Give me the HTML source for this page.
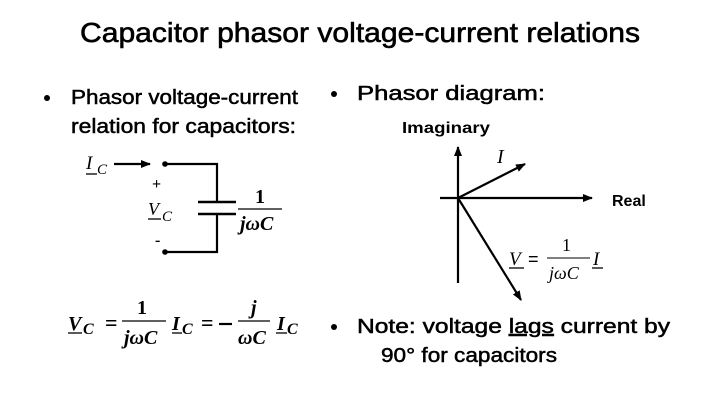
<!DOCTYPE html>
<html><head><meta charset="utf-8"><style>
html,body{margin:0;padding:0;background:#fff}
svg{display:block}
.c{font-family:"Liberation Sans",sans-serif;fill:#000;stroke:#000;stroke-width:0.5}
.m{font-family:"Liberation Serif",serif;font-style:italic;fill:#000}
.mb{font-family:"Liberation Serif",serif;font-style:italic;font-weight:bold;fill:#000}
.b{font-family:"Liberation Serif",serif;font-weight:bold;fill:#000}
</style></head><body>
<svg width="720" height="405" viewBox="0 0 720 405" xmlns="http://www.w3.org/2000/svg">
<defs><marker id="ah" markerWidth="10" markerHeight="8" refX="9" refY="4" orient="auto" markerUnits="userSpaceOnUse"><path d="M0,0 L10,4 L0,8 Z" fill="#000"/></marker></defs>
<text class="c" x="80" y="42" font-size="28" textLength="560" lengthAdjust="spacingAndGlyphs" style="stroke-width:0.6">Capacitor phasor voltage-current relations</text>
<circle cx="47" cy="98" r="3"/>
<text class="c" x="71" y="104" font-size="20" textLength="227" lengthAdjust="spacingAndGlyphs">Phasor voltage-current</text>
<text class="c" x="71" y="133" font-size="20" textLength="225" lengthAdjust="spacingAndGlyphs">relation for capacitors:</text>
<circle cx="334" cy="94" r="3"/>
<text class="c" x="357" y="100" font-size="20" textLength="188" lengthAdjust="spacingAndGlyphs">Phasor diagram:</text>
<circle cx="334" cy="327" r="3"/>
<text class="c" x="357" y="333" font-size="20" textLength="313" lengthAdjust="spacingAndGlyphs">Note: voltage <tspan text-decoration="underline">lags</tspan> current by</text>
<text class="c" x="381" y="362" font-size="20" textLength="176" lengthAdjust="spacingAndGlyphs">90° for capacitors</text>

<!-- circuit -->
<text class="m" x="86" y="169" font-size="19">I</text><text class="m" x="97" y="174" font-size="15">C</text>
<line x1="86" y1="174" x2="97" y2="174" stroke="#000" stroke-width="1.3"/>
<line x1="114" y1="164" x2="150" y2="164" stroke="#000" stroke-width="2.2" marker-end="url(#ah)"/>
<polyline points="165,164 217,164 217,202" fill="none" stroke="#000" stroke-width="2.2"/>
<polyline points="165,252 217,252 217,215" fill="none" stroke="#000" stroke-width="2.2"/>
<line x1="198" y1="202" x2="236" y2="202" stroke="#000" stroke-width="2.5"/>
<line x1="198" y1="214" x2="236" y2="214" stroke="#000" stroke-width="2.5"/>
<circle cx="165" cy="164" r="2.8"/><circle cx="165" cy="252" r="2.8"/>
<text class="b" x="152" y="189" font-size="16">+</text>
<text class="b" x="155" y="245" font-size="16">-</text>
<text class="m" x="148" y="215" font-size="18">V</text><text class="m" x="162" y="221" font-size="15">C</text>
<line x1="148" y1="219" x2="161" y2="219" stroke="#000" stroke-width="1.3"/>
<text class="b" x="255" y="203" font-size="20">1</text>
<line x1="238" y1="209" x2="282" y2="209" stroke="#000" stroke-width="1.3"/>
<text class="mb" x="240" y="230" font-size="20">jωC</text>

<!-- equation -->
<text class="mb" x="68" y="330" font-size="20">V</text><text class="mb" x="83" y="334" font-size="16">C</text>
<line x1="68" y1="333" x2="82" y2="333" stroke="#000" stroke-width="1.3"/>
<text class="b" x="105" y="330" font-size="22">=</text>
<text class="b" x="137" y="314" font-size="20">1</text>
<line x1="122" y1="321" x2="166" y2="321" stroke="#000" stroke-width="1.3"/>
<text class="mb" x="124" y="344" font-size="20">jωC</text>
<text class="mb" x="172" y="330" font-size="20">I</text><text class="mb" x="182" y="334" font-size="16">C</text>
<line x1="172" y1="333" x2="182" y2="333" stroke="#000" stroke-width="1.3"/>
<text class="b" x="201" y="330" font-size="22">=</text>
<line x1="219" y1="324" x2="232" y2="324" stroke="#000" stroke-width="2.2"/>
<text class="mb" x="251" y="314" font-size="20">j</text>
<line x1="238" y1="321" x2="270" y2="321" stroke="#000" stroke-width="1.3"/>
<text class="mb" x="238" y="344" font-size="20">ωC</text>
<text class="mb" x="277" y="330" font-size="20">I</text><text class="mb" x="287" y="334" font-size="16">C</text>
<line x1="276" y1="333" x2="287" y2="333" stroke="#000" stroke-width="1.3"/>

<!-- phasor diagram -->
<text class="c" x="402" y="133" font-size="16" font-weight="bold" textLength="88" lengthAdjust="spacingAndGlyphs" style="stroke-width:0">Imaginary</text>
<line x1="458" y1="283" x2="458" y2="147" stroke="#000" stroke-width="2.2" marker-end="url(#ah)"/>
<line x1="440" y1="198" x2="592" y2="198" stroke="#000" stroke-width="2.2" marker-end="url(#ah)"/>
<line x1="458" y1="198" x2="525" y2="164" stroke="#000" stroke-width="2.2" marker-end="url(#ah)"/>
<line x1="458" y1="198" x2="521" y2="300" stroke="#000" stroke-width="2.2" marker-end="url(#ah)"/>
<text class="m" x="497" y="163" font-size="20">I</text>
<text class="c" x="612" y="206" font-size="16" font-weight="bold" style="stroke-width:0">Real</text>
<text class="m" x="509" y="265" font-size="19">V</text>
<line x1="509" y1="268" x2="524" y2="268" stroke="#000" stroke-width="1.3"/>
<text class="c" x="528" y="265" font-size="18" style="stroke-width:0">=</text>
<text x="562" y="251" font-size="18" style="font-family:'Liberation Serif',serif">1</text>
<line x1="547" y1="258" x2="590" y2="258" stroke="#000" stroke-width="1.1"/>
<text class="m" x="549" y="279" font-size="18">jωC</text>
<text class="m" x="593" y="265" font-size="19">I</text>
<line x1="592" y1="268" x2="603" y2="268" stroke="#000" stroke-width="1.3"/>
</svg>
</body></html>
